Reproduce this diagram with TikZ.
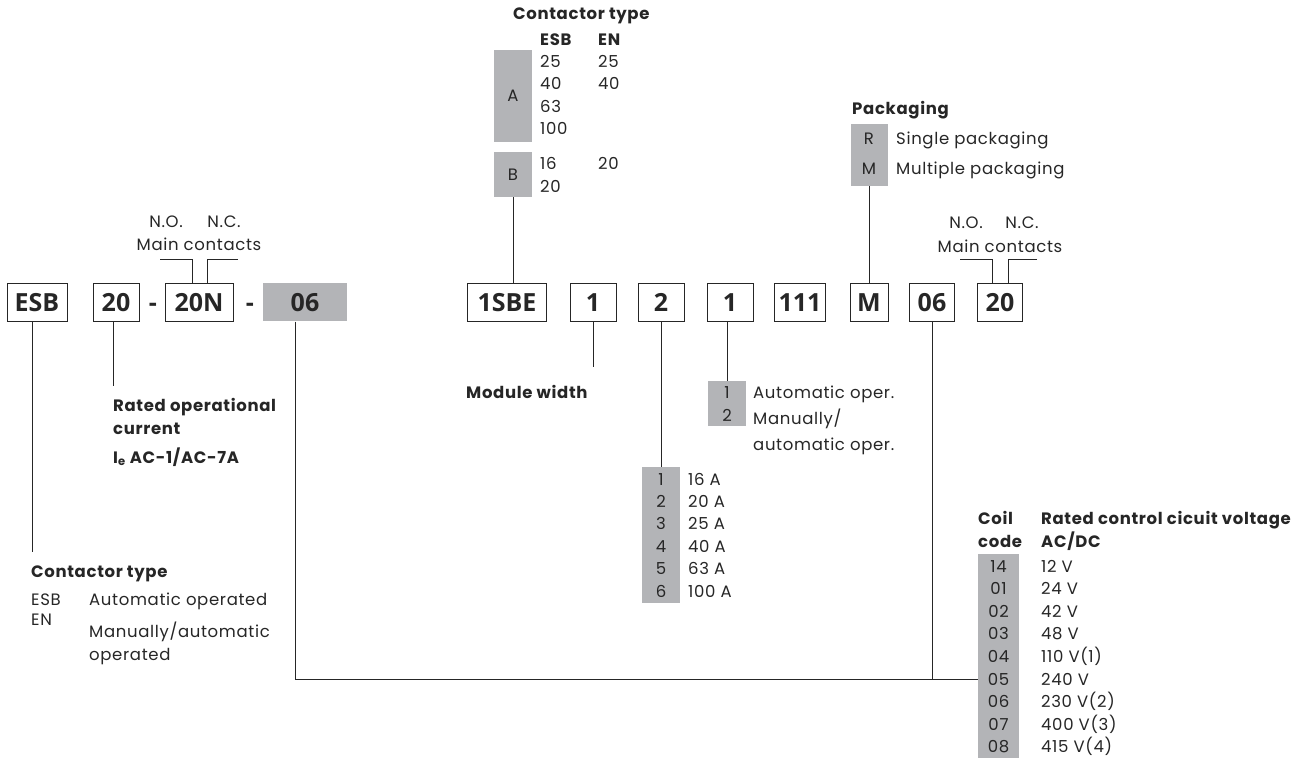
\documentclass[tikz,border=0pt]{standalone}
\usepackage{fontspec}
\setmainfont{Open Sans}
\newfontfamily\lblfont[LetterSpace=4]{Poppins}
\definecolor{abbgray}{RGB}{179,180,183}
\definecolor{inkdark}{RGB}{38,38,38}
\usetikzlibrary{positioning}

\begin{document}
\begin{tikzpicture}[x=1pt, y=-1pt,
  cbox/.style={draw=inkdark, line width=1pt, minimum height=38pt, inner sep=0pt, text height=18pt, text depth=0pt, text=inkdark, font=\fontsize{25}{25}\selectfont\bfseries},
  gbox/.style={fill=abbgray, inner sep=0pt, text=inkdark},
  lbl/.style={inner sep=0pt, text=inkdark, align=left, font=\lblfont\fontsize{16.5}{22.6}\selectfont},
  hd/.style={lbl, font=\lblfont\fontsize{16.5}{22.6}\selectfont\bfseries},
  ln/.style={draw=inkdark, line width=0.9pt}
]
  \useasboundingbox (0,0) rectangle (1309,762);

  % ordering code: ESB 20-20N-06
  \node[cbox, minimum width=60pt] (esb) at (37,302) {ESB};
  \node[cbox, minimum width=46pt] (cur) at (116,302) {20};
  \node[cbox, draw=none] (dash1) at (153,302) {-};
  \node[cbox, minimum width=68pt] (cont) at (199,302) {20N};
  \node[cbox, draw=none] (dash2) at (250,302) {-};
  \node[cbox, draw=none, fill=abbgray, minimum width=84pt] (gcoil) at (305,302) {06};

  % ordering code: 1SBE 1 2 1 111 M 06 20
  \node[cbox, minimum width=79pt] (sbe) at (507,302) {1SBE};
  \node[cbox, minimum width=46pt] (mw) at (593,302) {1};
  \node[cbox, minimum width=46pt] (mc) at (661,302) {2};
  \node[cbox, minimum width=46pt] (mo) at (730,302) {1};
  \node[cbox, minimum width=51pt] (mx) at (800,302) {111};
  \node[cbox, minimum width=38pt] (mp) at (869,302) {M};
  \node[cbox, minimum width=45pt] (mv) at (932,302) {06};
  \node[cbox, minimum width=45pt] (mn) at (1000,302) {20};

  % main contacts, left
  \node[lbl, anchor=base] (nol) at (166,228) {N.O.};
  \node[lbl, anchor=base] (ncl) at (224,228) {N.C.};
  \node[lbl, anchor=base] (mcl) at (199,251) {Main contacts};
  \coordinate (cl1) at (160,259);
  \coordinate (cl2) at (238,259);
  \draw[ln] (cl1) -| ([xshift=-7pt]cont.north);
  \draw[ln] (cl2) -| ([xshift=8pt]cont.north);

  % main contacts, right
  \node[lbl, anchor=base] (nor) at (966,229) {N.O.};
  \node[lbl, anchor=base] (ncr) at (1022,229) {N.C.};
  \node[lbl, anchor=base] (mcr) at (1000,252) {Main contacts};
  \coordinate (cr1) at (960,259);
  \coordinate (cr2) at (1037,259);
  \draw[ln] (cr1) -| ([xshift=-8pt]mn.north);
  \draw[ln] (cr2) -| ([xshift=8pt]mn.north);

  % contactor type, top
  \node[hd, anchor=base west] (cthd) at (513,20) {Contactor type};
  \node[hd, anchor=base west] (esbhd) at (540,46) {ESB};
  \node[hd, anchor=base west] (enhd) at (598,46) {EN};
  \node[gbox, minimum width=38pt, minimum height=92pt, font=\lblfont\fontsize{16.5}{15}\selectfont] (ta) at (513,96) {A};
  \node[gbox, minimum width=38pt, minimum height=45pt, font=\lblfont\fontsize{16.5}{15}\selectfont] (tb) at (513,174.5) {B};
  \foreach \v/\y [count=\i] in {25/68, 40/90, 63/113, 100/135, 16/170, 20/193}
    \node[lbl, anchor=base west] (va\i) at (540,\y) {\v};
  \foreach \v/\y [count=\i] in {25/68, 40/90, 20/170}
    \node[lbl, anchor=base west] (vb\i) at (598,\y) {\v};
  \draw[ln] (tb.south) -- (tb.south |- sbe.north);

  % packaging
  \node[hd, anchor=base west] (pkhd) at (852,115) {Packaging};
  \node[gbox, minimum width=37pt, minimum height=62pt] (pk) at (869,155) {};
  \node[lbl, anchor=base] (pkr) at (869,145) {R};
  \node[lbl, anchor=base] (pkm) at (869,175) {M};
  \node[lbl, anchor=base west] (pkrl) at (896,145) {Single packaging};
  \node[lbl, anchor=base west] (pkml) at (896,175) {Multiple packaging};
  \draw[ln] (pk.south) -- (pk.south |- mp.north);

  % contactor type, bottom left
  \node[hd, anchor=base west] (ctyp) at (31,577) {Contactor type};
  \node[lbl, anchor=base west] (kesb) at (31,605) {ESB};
  \node[lbl, anchor=base west] (tesb) at (89,605) {Automatic operated};
  \node[lbl, anchor=base west] (ken) at (31,625) {EN};
  \node[lbl, anchor=north west] (ten) at (89,622) {Manually/automatic\\operated};
  \draw[ln, shorten >=13pt] ([xshift=-5pt]esb.south) -- ([xshift=-5pt]esb.south |- ctyp.north);

  % rated operational current
  \node[hd, anchor=north west] (rate) at (113,398) {Rated operational\\current};
  \node[hd, anchor=base west] (ie) at (113,463) {I\textsubscript{e} AC-1/AC-7A};
  \draw[ln, shorten >=12pt] ([xshift=-3pt]cur.south) -- ([xshift=-3pt]cur.south |- rate.north);

  % module width
  \node[hd, anchor=base west] (modw) at (466,398) {Module width};
  \draw[ln, shorten >=18pt] (mw.south) -- (mw.south |- modw.north);

  % rated current
  \node[gbox, minimum width=38pt, minimum height=136pt] (amp) at (661,535) {};
  \foreach \d/\v [count=\i] in {1/16 A, 2/20 A, 3/25 A, 4/40 A, 5/63 A, 6/100 A} {
    \node[lbl, anchor=base] (ak\i) at (661,{485+22.4*(\i-1)}) {\d};
    \node[lbl, anchor=base west] (av\i) at (688,{485+22.4*(\i-1)}) {\v};
  }
  \draw[ln] (mc.south) -- (amp.north);

  % operation
  \node[gbox, minimum width=38pt, minimum height=45pt] (auto) at (727,403.5) {};
  \node[lbl, anchor=base] (ok1) at (727,398) {1};
  \node[lbl, anchor=base] (ok2) at (727,421) {2};
  \node[lbl, anchor=base west] (ov1) at (753,398) {Automatic oper.};
  \node[lbl, anchor=north west] (ov2) at (753,409) {Manually/\\[3.5pt]automatic oper.};
  \draw[ln] (auto.north |- mo.south) -- (auto.north);

  % coil code
  \node[hd, anchor=north west] (coilhd) at (978,511) {Coil\\code};
  \node[hd, anchor=north west] (volthd) at (1041,511) {Rated control cicuit voltage\\AC/DC};
  \node[gbox, minimum width=41pt, minimum height=204pt] (coiltab) at (998.5,656) {};
  \foreach \c/\v [count=\i] in {14/12 V, 01/24 V, 02/42 V, 03/48 V, 04/110 V(1), 05/240 V, 06/230 V(2), 07/400 V(3), 08/415 V(4)} {
    \node[lbl, anchor=base] (ck\i) at (998.5,{572+22.6*(\i-1)}) {\c};
    \node[lbl, anchor=base west] (cv\i) at (1041,{572+22.6*(\i-1)}) {\v};
  }
  \draw[ln] ([xshift=-10pt]gcoil.south) |- (coiltab.west |- ck6);
  \draw[ln] (mv.south) -- (mv.south |- ck6);
\end{tikzpicture}
\end{document}
